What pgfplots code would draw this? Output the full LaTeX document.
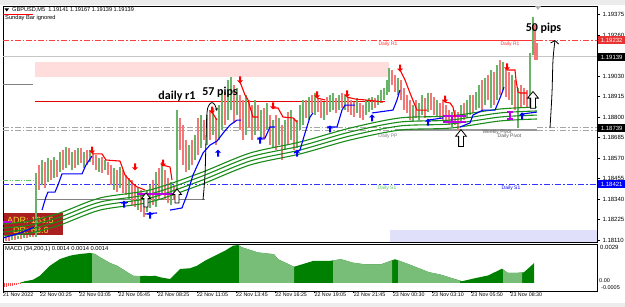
\documentclass[border=0pt]{standalone}
\usepackage{fontspec}
\setmainfont{Liberation Sans}
\newfontfamily\carlito{Carlito}
\usepackage{pgfplots}
\pgfplotsset{compat=1.18}
\usetikzlibrary{arrows.meta}
\definecolor{cRed}{RGB}{242,120,120}
\definecolor{cGreen}{RGB}{105,180,105}
\definecolor{maG}{RGB}{25,140,25}
\definecolor{pinkR}{RGB}{255,221,221}
\definecolor{lavR}{RGB}{224,224,250}
\definecolor{adrR}{RGB}{170,32,32}
\definecolor{adrY}{RGB}{240,220,40}
\definecolor{macdD}{RGB}{0,128,0}
\definecolor{macdL}{RGB}{120,190,120}
\definecolor{purp}{RGB}{190,0,230}
\definecolor{labRed}{RGB}{235,50,50}
\definecolor{cS1}{RGB}{90,200,90}
\pgfdeclareplotmark{bigup}{%
 \pgfpathmoveto{\pgfqpoint{0pt}{7pt}}%
 \pgfpathlineto{\pgfqpoint{4.5pt}{1.5pt}}%
 \pgfpathlineto{\pgfqpoint{2pt}{1.5pt}}%
 \pgfpathlineto{\pgfqpoint{2pt}{-7pt}}%
 \pgfpathlineto{\pgfqpoint{-2pt}{-7pt}}%
 \pgfpathlineto{\pgfqpoint{-2pt}{1.5pt}}%
 \pgfpathlineto{\pgfqpoint{-4.5pt}{1.5pt}}%
 \pgfpathclose
 \pgfusepathqfillstroke}
\pgfdeclareplotmark{smallup}{%
 \pgfpathmoveto{\pgfqpoint{0pt}{3.5pt}}%
 \pgfpathlineto{\pgfqpoint{3pt}{0.5pt}}%
 \pgfpathlineto{\pgfqpoint{1pt}{0.5pt}}%
 \pgfpathlineto{\pgfqpoint{1pt}{-3.5pt}}%
 \pgfpathlineto{\pgfqpoint{-1pt}{-3.5pt}}%
 \pgfpathlineto{\pgfqpoint{-1pt}{0.5pt}}%
 \pgfpathlineto{\pgfqpoint{-3pt}{0.5pt}}%
 \pgfpathclose
 \pgfusepathqfill}
\begin{document}
\begin{tikzpicture}
\path[use as bounding box] (0,0) rectangle (625pt,307pt);
\fill[white] (0,0) rectangle (625pt,307pt);
\fill[gray!15] (0,302pt) rectangle (625pt,307pt);
\fill[gray!15] (0,0) rectangle (625pt,4pt);
% ADR box (under the lines)
\node[fill=adrR, minimum width=59pt, minimum height=22pt, inner sep=0, anchor=south west] at (4pt,72pt) {};
\node[anchor=west, text=adrY, font=\fontsize{9}{9}\selectfont, inner sep=0] at (7pt,86.5pt) {ADR: 163.5};
\node[anchor=west, text=adrY, font=\fontsize{9}{9}\selectfont, inner sep=0] at (13pt,77pt) {DR: 63.6};

\begin{axis}[
 at={(3pt,65pt)}, anchor=south west,
 width=594pt, height=236pt, scale only axis,
 xmin=3, xmax=597, ymin=1.18100, ymax=1.19424,
 axis line style={draw=black, line width=0.6pt},
 xtick=\empty,
 ytick={1.19375,1.19260,1.19030,1.18915,1.18800,1.18685,1.18570,1.18455,1.18340,1.18225,1.18110},
 yticklabels={1.19375,1.19260,1.19030,1.18915,1.18800,1.18685,1.18570,1.18455,1.18340,1.18225,1.18110},
 ytick pos=right, ytick align=outside, major tick length=3pt,
 yticklabel style={font=\fontsize{6}{6}\selectfont, anchor=west, xshift=-1pt},
 tick style={black, line width=0.5pt},
]
% zones
\addplot[draw=none, fill=pinkR] coordinates {(35,1.19026) (389,1.19026) (389,1.19110) (35,1.19110)} -- cycle;
\addplot[draw=none, fill=lavR] coordinates {(390,1.18100) (597,1.18100) (597,1.18167) (390,1.18167)} -- cycle;
% level lines
\addplot[gray!45, line width=0.6pt] coordinates {(3,1.19139) (597,1.19139)};
\addplot[red!75, line width=0.6pt, dash pattern=on 6pt off 2pt on 1.5pt off 2pt] coordinates {(3,1.19232) (395,1.19232)};
\addplot[red!80, line width=1pt] coordinates {(395,1.19232) (537,1.19232)};
\addplot[red!75, line width=0.6pt, dash pattern=on 6pt off 2pt on 1.5pt off 2pt] coordinates {(537,1.19232) (597,1.19232)};
\addplot[red!90!black, line width=1pt] coordinates {(35,1.18891) (385,1.18891)};
\addplot[gray, line width=1pt] coordinates {(3,1.18981) (33,1.18981)};
\addplot[gray, line width=1pt] coordinates {(35,1.18336) (205,1.18336)};
\addplot[gray!70, line width=0.7pt, dash pattern=on 6pt off 2pt on 1.5pt off 2pt] coordinates {(3,1.18742) (395,1.18742)};
\addplot[gray!70, line width=0.7pt, dash pattern=on 6pt off 2pt on 1.5pt off 2pt] coordinates {(3,1.18725) (395,1.18725)};
\addplot[gray!80, line width=0.7pt] coordinates {(395,1.18734) (537,1.18734)};
\addplot[gray!80, line width=0.7pt] coordinates {(395,1.18725) (537,1.18725)};
\addplot[gray!70, line width=0.7pt, dash pattern=on 6pt off 2pt on 1.5pt off 2pt] coordinates {(537,1.18742) (597,1.18742)};
\addplot[gray!70, line width=0.7pt, dash pattern=on 6pt off 2pt on 1.5pt off 2pt] coordinates {(537,1.18725) (597,1.18725)};
\addplot[cS1, line width=0.6pt, dash pattern=on 5pt off 1.5pt on 1pt off 1.5pt on 1pt off 1.5pt] coordinates {(3,1.18448) (33,1.18448)};
\addplot[blue!80, line width=0.6pt, dash pattern=on 6pt off 2pt on 1.5pt off 2pt] coordinates {(3,1.18421) (597,1.18421)};
% candles
\addplot[draw=none, mark=none, forget plot, error bars/.cd, y dir=plus, y explicit, error mark=none,
 error bar style={draw=cRed, line width=1.1pt}] table[x=x, y=lo, y error expr=\thisrow{hi}-\thisrow{lo}] {
x lo hi
6 1.18106 1.18139
9 1.18106 1.18134
15 1.18111 1.18139
21 1.18117 1.18139
27 1.18122 1.18139
33 1.18128 1.18139
39 1.18392 1.18532
45 1.18403 1.18549
51 1.18448 1.18560
57 1.18465 1.18560
63 1.18504 1.18616
69 1.18532 1.18627
75 1.18515 1.18616
81 1.18543 1.18627
87 1.18532 1.18616
93 1.18532 1.18605
96 1.18504 1.18588
102 1.18487 1.18577
108 1.18476 1.18549
111 1.18420 1.18532
117 1.18380 1.18504
123 1.18375 1.18504
126 1.18364 1.18476
132 1.18307 1.18448
135 1.18296 1.18420
141 1.18268 1.18392
144 1.18240 1.18364
153 1.18307 1.18448
159 1.18336 1.18515
165 1.18336 1.18504
168 1.18319 1.18459
174 1.18336 1.18420
180 1.18616 1.18796
183 1.18532 1.18756
186 1.18493 1.18672
192 1.18532 1.18672
198 1.18588 1.18796
204 1.18672 1.18784
210 1.18672 1.18840
216 1.18644 1.18796
225 1.18756 1.18941
234 1.18768 1.18981
240 1.18728 1.18925
243 1.18672 1.18897
249 1.18739 1.18897
252 1.18672 1.18868
258 1.18728 1.18868
264 1.18672 1.18852
270 1.18644 1.18812
276 1.18616 1.18812
282 1.18560 1.18756
288 1.18644 1.18829
294 1.18616 1.18796
306 1.18796 1.18897
312 1.18824 1.18925
318 1.18829 1.18908
321 1.18796 1.18897
327 1.18812 1.18913
336 1.18824 1.18908
342 1.18852 1.18936
348 1.18829 1.18913
351 1.18812 1.18897
354 1.18801 1.18885
360 1.18796 1.18880
363 1.18784 1.18868
375 1.18852 1.18908
392 1.18981 1.19065
395 1.18941 1.19037
401 1.18897 1.19009
404 1.18840 1.18964
407 1.18824 1.18925
410 1.18784 1.18897
416 1.18796 1.18897
425 1.18796 1.18908
431 1.18840 1.18936
434 1.18812 1.18913
440 1.18796 1.18880
443 1.18784 1.18897
446 1.18768 1.18868
449 1.18756 1.18840
455 1.18756 1.18840
458 1.18728 1.18829
464 1.18784 1.18880
473 1.18824 1.18925
482 1.18840 1.19009
488 1.18897 1.19037
494 1.18868 1.19054
500 1.18925 1.19121
506 1.18913 1.19076
509 1.18897 1.19054
515 1.18840 1.19009
521 1.18857 1.18981
524 1.18868 1.18964
527 1.18857 1.18953
535 1.19121 1.19317
537 1.19121 1.19216
};
\addplot[draw=none, mark=none, forget plot, error bars/.cd, y dir=plus, y explicit, error mark=none,
 error bar style={draw=cGreen, line width=1.1pt}] table[x=x, y=lo, y error expr=\thisrow{hi}-\thisrow{lo}] {
x lo hi
12 1.18111 1.18134
18 1.18117 1.18134
24 1.18122 1.18139
30 1.18128 1.18139
36 1.18128 1.18487
42 1.18420 1.18560
48 1.18437 1.18571
54 1.18459 1.18577
60 1.18493 1.18605
66 1.18515 1.18633
72 1.18504 1.18605
78 1.18532 1.18627
84 1.18515 1.18605
90 1.18549 1.18616
99 1.18493 1.18571
105 1.18504 1.18560
114 1.18392 1.18515
120 1.18403 1.18521
129 1.18336 1.18459
138 1.18279 1.18403
147 1.18268 1.18392
150 1.18291 1.18420
156 1.18296 1.18493
162 1.18364 1.18549
171 1.18307 1.18437
177 1.18347 1.18840
189 1.18504 1.18644
195 1.18560 1.18700
201 1.18627 1.18812
207 1.18644 1.18812
213 1.18700 1.18852
219 1.18672 1.18868
222 1.18728 1.18953
228 1.18784 1.19009
231 1.18840 1.19026
237 1.18812 1.18964
246 1.18700 1.18925
255 1.18700 1.18897
261 1.18683 1.18840
267 1.18728 1.18880
273 1.18627 1.18784
279 1.18644 1.18796
285 1.18616 1.18784
291 1.18672 1.18840
297 1.18627 1.18784
300 1.18728 1.18868
303 1.18756 1.18897
309 1.18784 1.18913
315 1.18812 1.18936
324 1.18784 1.18885
330 1.18829 1.18925
333 1.18840 1.18936
339 1.18840 1.18925
345 1.18840 1.18925
357 1.18824 1.18908
366 1.18812 1.18897
369 1.18829 1.18908
372 1.18840 1.18913
378 1.18868 1.18925
381 1.18880 1.18953
384 1.18897 1.18964
387 1.18925 1.19009
389 1.18941 1.19076
398 1.18925 1.19020
413 1.18773 1.18868
419 1.18784 1.18880
422 1.18812 1.18925
428 1.18829 1.18936
437 1.18801 1.18897
452 1.18745 1.18829
461 1.18773 1.18868
467 1.18796 1.18897
470 1.18812 1.18925
476 1.18840 1.18941
479 1.18852 1.18981
485 1.18868 1.19020
491 1.18852 1.19065
497 1.18897 1.19093
503 1.18953 1.19110
512 1.18868 1.19037
518 1.18739 1.18964
530 1.18857 1.19160
533 1.19149 1.19362
};
% moving average band
\addplot[maG, line width=1.1pt, smooth] coordinates {(3,1.18201) (30,1.18218) (60,1.18263) (100,1.18347) (150,1.18392) (200,1.18487) (250,1.18599) (300,1.18661) (350,1.18739) (400,1.18796) (450,1.18807) (500,1.18846) (537,1.18857)};
\addplot[maG, line width=1.1pt, smooth] coordinates {(3,1.18178) (30,1.18195) (60,1.18240) (100,1.18324) (150,1.18369) (200,1.18465) (250,1.18577) (300,1.18638) (350,1.18717) (400,1.18773) (450,1.18784) (500,1.18824) (537,1.18835)};
\addplot[maG, line width=1.1pt, smooth] coordinates {(3,1.18156) (30,1.18173) (60,1.18218) (100,1.18302) (150,1.18347) (200,1.18442) (250,1.18554) (300,1.18616) (350,1.18695) (400,1.18751) (450,1.18762) (500,1.18801) (537,1.18812)};
\addplot[maG, line width=1.1pt, smooth] coordinates {(3,1.18134) (30,1.18150) (60,1.18195) (100,1.18279) (150,1.18324) (200,1.18420) (250,1.18532) (300,1.18594) (350,1.18672) (400,1.18728) (450,1.18739) (500,1.18779) (537,1.18790)};
% purple marks
\addplot[purp, line width=1.2pt] coordinates {(137,1.18369) (173,1.18369)};
\addplot[purp, line width=1.2pt] coordinates {(3,1.18212) (12,1.18212)};
\addplot[purp, line width=1.2pt] coordinates {(443,1.18807) (466,1.18807)};
\addplot[purp, line width=1.2pt] coordinates {(443,1.18773) (466,1.18773)};
\addplot[purp, line width=2.5pt] coordinates {(452,1.18807) (452,1.18773)};
\addplot[purp, line width=1.2pt] coordinates {(507,1.18829) (513,1.18829)};
\addplot[purp, line width=1.2pt] coordinates {(507,1.18790) (513,1.18790)};
\addplot[purp, line width=2.5pt] coordinates {(510,1.18829) (510,1.18790)};
% supertrend up (blue)
\addplot[blue, line width=1.1pt] coordinates {(3,1.18122) (10,1.18134) (20,1.18150) (30,1.18173) (34,1.18184)};
\addplot[blue, line width=1.1pt] coordinates {(42,1.18279) (46,1.18353) (48,1.18380) (55,1.18380) (58,1.18420) (62,1.18482) (82,1.18482) (86,1.18532) (92,1.18582)};
\addplot[blue, line width=1.1pt] coordinates {(120,1.18324) (128,1.18324)};
\addplot[blue, line width=1.1pt] coordinates {(145,1.18257) (157,1.18263)};
\addplot[blue, line width=1.1pt] coordinates {(170,1.18279) (182,1.18291) (187,1.18364) (193,1.18476) (203,1.18599) (210,1.18644) (217,1.18666) (224,1.18717) (230,1.18756) (237,1.18784) (241,1.18784)};
\addplot[blue, line width=1.1pt] coordinates {(257,1.18683) (265,1.18683) (270,1.18745) (275,1.18745)};
\addplot[blue, line width=1.1pt] coordinates {(294,1.18599) (300,1.18616) (305,1.18711) (310,1.18801) (313,1.18824)};
\addplot[blue, line width=1.1pt] coordinates {(327,1.18745) (337,1.18745) (342,1.18840) (345,1.18868) (355,1.18868)};
\addplot[blue, line width=1.1pt] coordinates {(372,1.18824) (393,1.18840) (397,1.18897) (400,1.18953)};
\addplot[blue, line width=1.1pt] coordinates {(428,1.18784) (443,1.18796)};
\addplot[blue, line width=1.1pt] coordinates {(460,1.18745) (470,1.18768) (473,1.18812) (483,1.18840) (495,1.18840) (498,1.18880) (502,1.18936) (504,1.18969)};
\addplot[blue, line width=1.1pt] coordinates {(522,1.18818) (537,1.18829)};
% supertrend down (red)
\addplot[red, line width=1.1pt] coordinates {(92,1.18594) (102,1.18594) (106,1.18560) (120,1.18554) (125,1.18476) (132,1.18431) (137,1.18409) (145,1.18392)};
\addplot[red, line width=1.1pt] coordinates {(162,1.18532) (170,1.18521) (172,1.18448)};
\addplot[red, line width=1.1pt] coordinates {(212,1.18829) (217,1.18784)};
\addplot[red, line width=1.1pt] coordinates {(240,1.18998) (245,1.18925) (248,1.18897) (250,1.18857) (253,1.18801) (258,1.18801)};
\addplot[red, line width=1.1pt] coordinates {(273,1.18852) (278,1.18852) (283,1.18801) (293,1.18796) (297,1.18773)};
\addplot[red, line width=1.1pt] coordinates {(317,1.18908) (325,1.18897)};
\addplot[red, line width=1.1pt] coordinates {(347,1.18913) (355,1.18902) (365,1.18897) (375,1.18891) (383,1.18885)};
\addplot[red, line width=1.1pt] coordinates {(400,1.19065) (405,1.19009) (410,1.18936) (414,1.18880) (417,1.18840) (427,1.18840)};
\addplot[red, line width=1.1pt] coordinates {(445,1.18885) (450,1.18880) (453,1.18857) (455,1.18801)};
\addplot[red, line width=1.1pt] coordinates {(507,1.19065) (515,1.19065) (516,1.19009) (518,1.18941) (520,1.18936) (527,1.18936)};
% signal arrows
\addplot[only marks, mark=smallup, mark options={fill=red, draw=red, rotate=180}] coordinates {(92,1.18616) (135,1.18521) (163,1.18543) (212,1.18840) (240,1.19009) (273,1.18863) (317,1.18925) (347,1.18931) (400,1.19076) (445,1.18902) (507,1.19082)};
\addplot[only marks, mark=smallup, mark options={fill=blue, draw=blue}] coordinates {(124,1.18313) (150,1.18251) (218,1.18599) (260,1.18672) (297,1.18599) (330,1.18734) (372,1.18796) (428,1.18773) (522,1.18807)};
\addplot[only marks, mark=bigup, mark options={fill=white, draw=black, line width=0.8pt}] coordinates {(146,1.18336) (177,1.18358)};
\addplot[only marks, mark=bigup, mark options={fill=white, draw=black, line width=0.8pt, scale=1.2}] coordinates {(461,1.18683) (533,1.18897)};
% hand-drawn measurement arrows
\addplot[black, line width=0.8pt, smooth, tension=0.6, -{Stealth[length=3pt,width=3pt]}] coordinates {(203,1.18336) (205,1.18476) (206,1.18672) (207,1.18824) (209,1.18868) (212,1.18882) (215,1.18868) (217,1.18835)};
\addplot[black, line width=0.8pt, smooth, -{Straight Barb[length=3pt,width=8pt]}] coordinates {(550,1.18739) (552,1.18936) (553,1.19121) (555,1.19233)};
\end{axis}

\begin{axis}[
 at={(3pt,16pt)}, anchor=south west,
 width=594pt, height=47pt, scale only axis,
 xmin=3, xmax=597, ymin=-0.00064, ymax=0.00312,
 axis line style={draw=black, line width=0.6pt},
 ytick=\empty,
 xtick={3,40,79.2,118.4,157.6,196.8,236,275.2,314.4,353.6,392.8,432,471.2,510.4},
 xticklabels={21 Nov 2022,22 Nov 00:25,22 Nov 03:05,22 Nov 05:45,22 Nov 08:25,22 Nov 11:05,22 Nov 13:45,22 Nov 16:25,22 Nov 19:05,22 Nov 21:45,23 Nov 00:30,23 Nov 03:10,23 Nov 05:50,23 Nov 08:30},
 xtick pos=bottom, xtick align=outside, major tick length=2pt,
 xticklabel style={font=\fontsize{5.3}{5.3}\selectfont, anchor=north west, xshift=-1pt, yshift=1pt, inner sep=1pt},
 tick style={black, line width=0.5pt},
]
\addplot[ycomb, draw=red!70, line width=1pt] coordinates {(4,-0.00034) (6,-0.00031) (8,-0.00028) (10,-0.00025) (12,-0.00022) (14,-0.00019) (16,-0.00015) (18,-0.00011) (20,-0.00007)};
\addplot[draw=none, fill=macdD] coordinates {(20,0) (20,0.00002) (25,0.00014) (33,0.00026) (40,0.00058) (50,0.00138) (60,0.00192) (70,0.00218) (75,0.00226) (80,0.00232) (90,0.00240) (95,0.00232) (100,0.00206) (110,0.00160) (117,0.00138) (125,0.00098) (133,0.00058) (140,0.00054) (145,0.00058) (150,0.00054) (155,0.00058) (160,0.00046) (170,0.00032) (175,0.00070) (180,0.00112) (190,0.00118) (197,0.00138) (205,0.00178) (215,0.00218) (225,0.00258) (233,0.00298) (238,0.00304) (242,0.00285) (258,0.00244) (274,0.00230) (278,0.00190) (294,0.00130) (302,0.00149) (313,0.00176) (329,0.00176) (341,0.00190) (353,0.00162) (365,0.00149) (381,0.00149) (395,0.00190) (409,0.00149) (429,0.00086) (440,0.00068) (462,0.00014) (476,0.00040) (488,0.00060) (502,0.00114) (508,0.00080) (516,0.00080) (524,0.00086) (534,0.00158) (534,0)} -- cycle;
\addplot[draw=none, fill=macdL] coordinates {(92,0) (92,0.00237) (95,0.00232) (100,0.00206) (110,0.00160) (117,0.00138) (125,0.00098) (133,0.00058) (140,0.00054) (140,0)} -- cycle;
\addplot[draw=none, fill=macdL] coordinates {(239,0) (239,0.00300) (242,0.00285) (258,0.00244) (274,0.00230) (278,0.00190) (294,0.00130) (294,0)} -- cycle;
\addplot[draw=none, fill=macdL] coordinates {(333,0) (333,0.00181) (341,0.00190) (353,0.00162) (365,0.00149) (381,0.00149) (392,0.00181) (392,0)} -- cycle;
\addplot[draw=none, fill=macdL] coordinates {(398,0) (398,0.00182) (409,0.00149) (429,0.00086) (440,0.00068) (460,0.00018) (460,0)} -- cycle;
\addplot[draw=none, fill=macdL] coordinates {(503,0) (503,0.00108) (508,0.00080) (516,0.00080) (522,0.00084) (522,0)} -- cycle;
\end{axis}

% price scale boxes
\node[fill=labRed, text=white, font=\fontsize{6}{6}\selectfont, inner sep=0, minimum width=27pt, minimum height=8.5pt, anchor=west] at (598pt,267pt) {1.19232};
\node[fill=black, text=white, font=\fontsize{6}{6}\selectfont, inner sep=0, minimum width=27pt, minimum height=8pt, anchor=west] at (598pt,250pt) {1.19139};
\node[fill=black, text=white, font=\fontsize{6}{6}\selectfont, inner sep=0, minimum width=27pt, minimum height=8pt, anchor=west] at (598pt,179pt) {1.18739};
\node[fill=blue, text=white, font=\fontsize{6}{6}\selectfont, inner sep=0, minimum width=27pt, minimum height=8pt, anchor=west] at (598pt,123pt) {1.18421};
\node[anchor=west, font=\fontsize{6}{6}\selectfont, inner sep=0] at (600pt,60pt) {0.0029};
\node[anchor=west, font=\fontsize{5.5}{5.5}\selectfont, inner sep=0] at (599pt,26pt) {0.00};
\node[anchor=west, font=\fontsize{5.5}{5.5}\selectfont, inner sep=0] at (601pt,19.5pt) {-0.0005};
% chart texts
\node[font=\carlito\bfseries\fontsize{12}{12}\selectfont, inner sep=0] at (177pt,211pt) {daily r1};
\node[font=\carlito\bfseries\fontsize{12}{12}\selectfont, inner sep=0] at (220pt,215pt) {57 pips};
\node[font=\carlito\bfseries\fontsize{12}{12}\selectfont, inner sep=0] at (543.5pt,278.5pt) {50 pips};
\node[text=red!80, font=\fontsize{5}{5}\selectfont, inner sep=0] at (388pt,263pt) {Daily R1};
\node[text=red!80, font=\fontsize{5}{5}\selectfont, inner sep=0] at (510pt,263pt) {Daily R1};
\node[text=gray, font=\fontsize{5}{5}\selectfont, inner sep=0] at (388pt,171pt) {Daily PP};
\node[text=cS1, font=\fontsize{5}{5}\selectfont, inner sep=0] at (387pt,119pt) {Daily S1};
\node[text=blue, font=\fontsize{5}{5}\selectfont, inner sep=0] at (511pt,119pt) {Daily S1};
\node[text=gray!70!black, font=\fontsize{5}{5}\selectfont, inner sep=0] at (497pt,174.5pt) {Weekly Pivot};
\node[text=gray!70!black, font=\fontsize{5}{5}\selectfont, inner sep=0] at (509.5pt,170.5pt) {Daily Pivot};
\fill (4.5pt,298.5pt) -- (9pt,298.5pt) -- (6.75pt,295.5pt) -- cycle;
\draw[red, line width=0.8pt] (3pt,293pt) -- (33pt,293pt);
\node[anchor=west, font=\fontsize{5.6}{5.6}\selectfont, inner sep=0] at (12pt,297pt) {GBPUSD,M5\ \ 1.19141 1.19167 1.19139 1.19139};
\node[anchor=west, font=\fontsize{5.7}{5.7}\selectfont, inner sep=0] at (5pt,289pt) {Sunday Bar ignored};
\node[anchor=west, font=\fontsize{5.8}{5.8}\selectfont, inner sep=0] at (5pt,58pt) {MACD (34,200,1) 0.0014 0.0014 0.0014};
\fill[gray!60] (535pt,301pt) -- (541pt,301pt) -- (538pt,297pt) -- cycle;
\end{tikzpicture}
\end{document}
